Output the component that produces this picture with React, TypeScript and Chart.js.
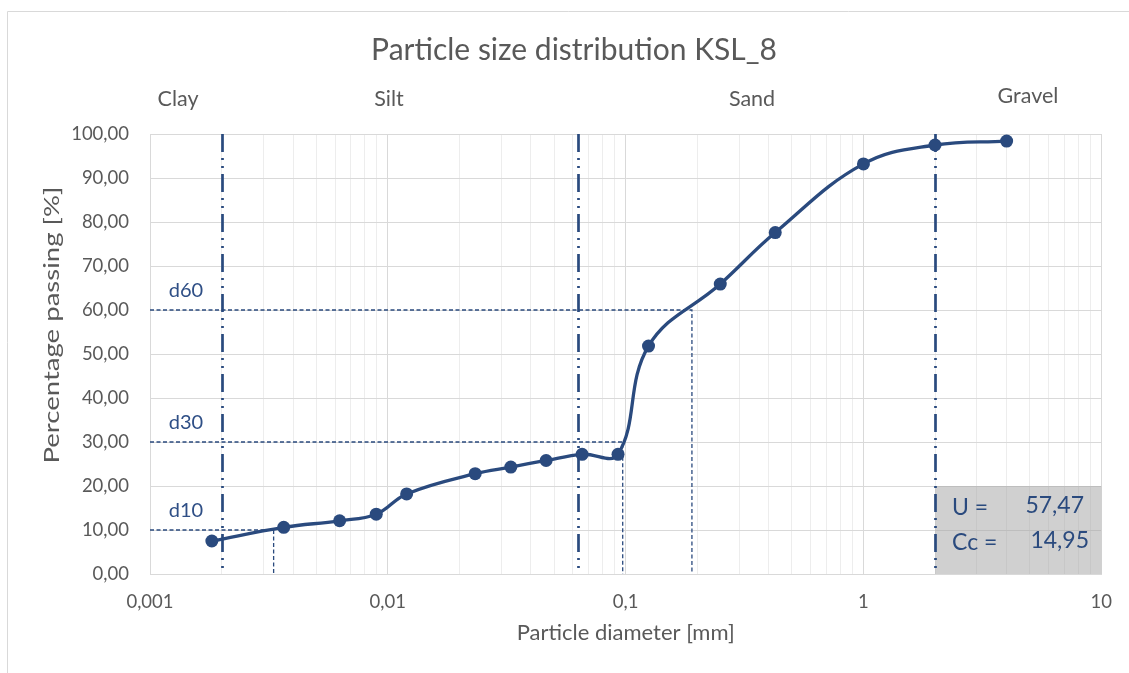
import React, { useEffect, useRef } from "react";
import { Chart, registerables } from "chart.js";

Chart.register(...registerables);

// ---- data ----
const diameters = [0.00182, 0.00365, 0.00627, 0.00894, 0.012, 0.0233, 0.0329, 0.0463, 0.0656, 0.0929, 0.1248, 0.25, 0.4257, 1.0, 2.0, 4.0];
const passing = [7.5, 10.6, 12.1, 13.6, 18.2, 22.8, 24.3, 25.8, 27.2, 27.2, 51.8, 65.9, 77.6, 93.2, 97.5, 98.4];

const fractionNames = ["Clay", "Silt", "Sand", "Gravel"];
const fractionBoundaries = [0.002, 0.063, 2];

const dLabels = ["d10", "d30", "d60"];
const dPercents = [10, 30, 60];
const dDiameters = [0.00331, 0.0972, 0.19];

const resultLabels = ["U =", "Cc ="];
const resultValues = ["57,47", "14,95"];

const decades = [0.001, 0.01, 0.1, 1];
const minorMultipliers = [1, 2, 3, 4, 5, 6, 7, 8, 9];
const yTicks = [0, 10, 20, 30, 40, 50, 60, 70, 80, 90, 100];

const TITLE = "Particle size distribution KSL_8";
const X_TITLE = "Particle diameter [mm]";
const Y_TITLE = "Percentage passing [%]";

// ---- styles ----
const FONT = "Lato";
const GREY_TEXT = "#595959";
const BLUE = "#2A4A7E";
const LABEL_BLUE = "#2F4F86";
const GRID_MAJOR = "#d9d9d9";
const GRID_MINOR = "#ededed";

const xTickValues: number[] = [];
decades.forEach((d) => minorMultipliers.forEach((m) => xTickValues.push(+(d * m).toPrecision(6))));
xTickValues.push(10);

const isMajor = (v: number) => Math.abs(Math.log10(v) - Math.round(Math.log10(v))) < 1e-9;

const overlayPlugin = {
  id: "overlay",
  beforeDatasetsDraw(chart: any) {
    const { ctx, chartArea } = chart;
    const xs = chart.scales.x;
    const ys = chart.scales.y;
    ctx.save();
    // grey result box
    const bx0 = xs.getPixelForValue(fractionBoundaries[2]);
    const bx1 = xs.getPixelForValue(10);
    const by0 = ys.getPixelForValue(20);
    const by1 = ys.getPixelForValue(0);
    ctx.fillStyle = "rgba(165,165,165,0.52)";
    ctx.fillRect(bx0, by0, bx1 - bx0, by1 - by0);

    // d lines
    ctx.strokeStyle = BLUE;
    ctx.lineWidth = 1.3;
    ctx.setLineDash([4, 2.5]);
    dPercents.forEach((p, i) => {
      const px = xs.getPixelForValue(dDiameters[i]);
      const py = ys.getPixelForValue(p);
      ctx.beginPath();
      ctx.moveTo(chartArea.left, py);
      ctx.lineTo(px, py);
      ctx.lineTo(px, chartArea.bottom);
      ctx.stroke();
    });

    // fraction boundaries (long dash dot dot)
    ctx.lineWidth = 2.7;
    ctx.setLineDash([18, 6, 2, 6, 2, 6]);
    fractionBoundaries.forEach((b) => {
      const px = Math.round(xs.getPixelForValue(b)) + 0.5;
      ctx.beginPath();
      ctx.moveTo(px, chartArea.top);
      ctx.lineTo(px, chartArea.bottom);
      ctx.stroke();
    });
    ctx.restore();
  },
  afterDraw(chart: any) {
    const { ctx } = chart;
    const ys = chart.scales.y;
    ctx.save();
    // outer frame
    ctx.strokeStyle = "#d9d9d9";
    ctx.lineWidth = 1;
    ctx.beginPath();
    ctx.moveTo(7.5, 673);
    ctx.lineTo(7.5, 11.5);
    ctx.lineTo(1129, 11.5);
    ctx.stroke();

    ctx.textAlign = "center";
    ctx.textBaseline = "middle";
    // title
    ctx.fillStyle = GREY_TEXT;
    ctx.font = `30px ${FONT}`;
    ctx.fillText(TITLE, 574, 50);

    // fraction names
    ctx.font = `21.5px ${FONT}`;
    const nameX = [178, 389, 752, 1028];
    const nameY = [99, 99, 99, 96];
    fractionNames.forEach((n, i) => ctx.fillText(n, nameX[i], nameY[i]));

    // y axis title, fitted to length
    ctx.save();
    ctx.translate(52, 325);
    ctx.rotate(-Math.PI / 2);
    ctx.font = `22px ${FONT}`;
    const w = ctx.measureText(Y_TITLE).width;
    ctx.scale(277 / w, 1);
    ctx.fillText(Y_TITLE, 0, 0);
    ctx.restore();

    // d labels
    ctx.fillStyle = LABEL_BLUE;
    ctx.font = `20px ${FONT}`;
    dLabels.forEach((l, i) => {
      ctx.fillText(l, 186, ys.getPixelForValue(dPercents[i]) - 19);
    });

    // result text
    ctx.fillStyle = BLUE;
    ctx.font = `23px ${FONT}`;
    ctx.textAlign = "left";
    const rowY = [508, 543];
    resultLabels.forEach((l, i) => ctx.fillText(l, 952, rowY[i]));
    ctx.textAlign = "right";
    const valRight = [1084, 1089];
    const valY = [506, 541];
    resultValues.forEach((v, i) => ctx.fillText(v, valRight[i], valY[i]));
    ctx.restore();
  },
};

export default function App() {
  const ref = useRef<HTMLCanvasElement | null>(null);
  useEffect(() => {
    if (!ref.current) return;
    const chart = new Chart(ref.current, {
      type: "scatter",
      data: {
        datasets: [
          {
            data: diameters.map((d, i) => ({ x: d, y: passing[i] })),
            showLine: true,
            tension: 0.4,
            borderColor: BLUE,
            backgroundColor: BLUE,
            borderWidth: 3.3,
            pointRadius: 6.5,
            pointBackgroundColor: BLUE,
            pointBorderColor: BLUE,
            pointBorderWidth: 0,
          },
        ],
      },
      options: {
        responsive: false,
        animation: false,
        devicePixelRatio: 1,
        layout: { padding: { left: 42, top: 134, right: 26, bottom: 23 } },
        plugins: { legend: { display: false }, tooltip: { enabled: false }, title: { display: false } },
        scales: {
          x: {
            type: "logarithmic",
            min: 0.001,
            max: 10,
            afterBuildTicks: (scale: any) => {
              scale.ticks = xTickValues.map((v) => ({ value: v, major: isMajor(v) }));
            },
            afterFit: (scale: any) => {
              scale.height = 76;
            },
            ticks: {
              autoSkip: false,
              maxRotation: 0,
              padding: 17,
              color: GREY_TEXT,
              font: { family: FONT, size: 18.5 },
              callback: (v: any) => (isMajor(Number(v)) ? String(Number(v)).replace(".", ",") : ""),
            },
            grid: {
              drawTicks: false,
              color: (c: any) => (c.tick && isMajor(c.tick.value) ? GRID_MAJOR : GRID_MINOR),
              lineWidth: 1,
            },
            border: { color: GRID_MAJOR },
            title: {
              display: true,
              text: X_TITLE,
              color: GREY_TEXT,
              font: { family: FONT, size: 22 },
            },
          },
          y: {
            min: 0,
            max: 100,
            afterBuildTicks: (scale: any) => {
              scale.ticks = yTicks.map((v) => ({ value: v }));
            },
            afterFit: (scale: any) => {
              scale.width = 108;
            },
            ticks: {
              padding: 21,
              color: GREY_TEXT,
              font: { family: FONT, size: 18.5 },
              callback: (v: any) => Number(v).toFixed(2).replace(".", ","),
            },
            grid: { drawTicks: false, color: GRID_MAJOR, lineWidth: 1 },
            border: { color: GRID_MAJOR },
            title: { display: false },
          },
        },
      },
      plugins: [overlayPlugin],
    } as any);
    return () => chart.destroy();
  }, []);
  return (
    <div style={{ position: "absolute", left: 0, top: 0, width: 1129, height: 673, background: "#fff" }}>
      <canvas ref={ref} width={1129} height={673} style={{ display: "block" }} />
    </div>
  );
}
